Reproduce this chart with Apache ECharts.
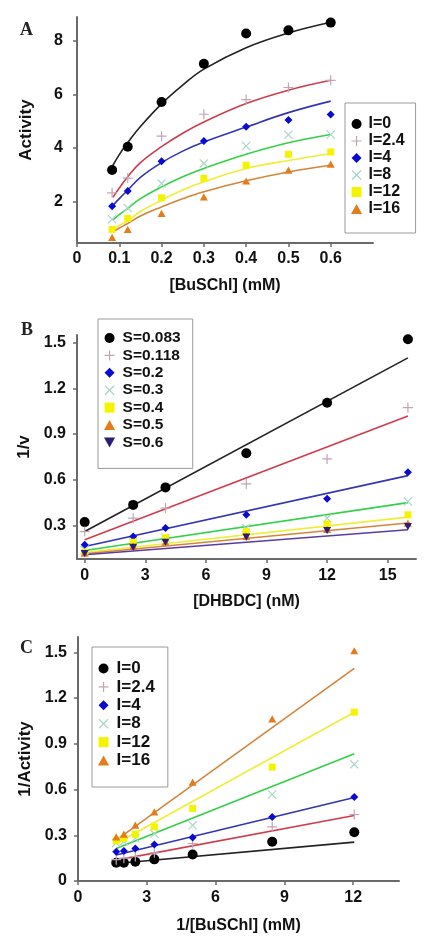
<!DOCTYPE html>
<html><head><meta charset="utf-8">
<script src="https://cdn.jsdelivr.net/npm/echarts@6/dist/echarts.min.js"></script>
<style>html,body{margin:0;padding:0;background:#fff}#c{width:434px;height:951px}</style>
</head><body><div id="c"></div>
<script>
// ---------- Panel A: Activity vs [BuSChl] ----------
const xA = [0.083, 0.12, 0.2, 0.3, 0.4, 0.5, 0.6];
const A_I0  = [3.17, 4.04, 5.72, 7.15, 8.28, 8.40, 8.69];
const A_I24 = [2.32, 2.87, 4.44, 5.26, 5.81, 6.26, 6.53];
const A_I4  = [1.82, 2.39, 3.50, 4.26, 4.79, 5.04, 5.25];
const A_I8  = [1.33, 1.75, 2.67, 3.42, 4.07, 4.49, 4.50];
const A_I12 = [0.95, 1.36, 2.13, 2.86, 3.35, 3.76, 3.85];
const A_I16 = [0.65, 0.95, 1.55, 2.17, 2.76, 3.17, 3.39];
const fitXA = [0.085, 0.1, 0.12, 0.15, 0.2, 0.25, 0.3, 0.4, 0.5, 0.6];
const fitA_I0  = [3.35, 3.75, 4.2, 4.8, 5.65, 6.35, 6.95, 7.75, 8.3, 8.7];
const fitA_I24 = [2.15, 2.5, 2.92, 3.45, 4.05, 4.55, 4.97, 5.66, 6.16, 6.53];
const fitA_I4  = [1.85, 2.1, 2.42, 2.9, 3.45, 3.88, 4.22, 4.78, 5.32, 5.75];
const fitA_I8  = [1.3, 1.5, 1.73, 2.1, 2.54, 2.92, 3.23, 3.76, 4.19, 4.5];
const fitA_I12 = [0.92, 1.1, 1.27, 1.62, 2.04, 2.42, 2.73, 3.23, 3.53, 3.79];
const fitA_I16 = [0.86, 1.0, 1.17, 1.45, 1.79, 2.1, 2.36, 2.77, 3.1, 3.35];
const xTicksA = [0, 0.1, 0.2, 0.3, 0.4, 0.5, 0.6];
const yTicksA = [2, 4, 6, 8];

// ---------- Panel B: 1/v vs [DHBDC] ----------
const xB = [0, 2.4, 4, 8, 12, 16];
const B_S083 = [0.322, 0.435, 0.55, 0.774, 1.105, 1.522];
const B_S118 = [0.26, 0.348, 0.414, 0.573, 0.737, 1.073];
const B_S2   = [0.174, 0.228, 0.283, 0.37, 0.475, 0.65];
const B_S3   = [0.14, 0.19, 0.22, 0.283, 0.348, 0.457];
const B_S4   = [0.123, 0.19, 0.22, 0.26, 0.31, 0.37];
const B_S5   = [0.118, 0.165, 0.19, 0.228, 0.275, 0.316];
const B_S6   = [0.115, 0.156, 0.19, 0.224, 0.267, 0.293];
const fitXB = [0, 16];
const fitB_S083 = [0.26, 1.40];
const fitB_S118 = [0.206, 1.018];
const fitB_S2   = [0.162, 0.627];
const fitB_S3   = [0.136, 0.45];
const fitB_S4   = [0.123, 0.355];
const fitB_S5   = [0.114, 0.316];
const fitB_S6   = [0.108, 0.272];
const xTicksB = [0, 3, 6, 9, 12, 15];
const yTicksB = [0.3, 0.6, 0.9, 1.2, 1.5];

// ---------- Panel C: 1/Activity vs 1/[BuSChl] ----------
const xC = [1.667, 2, 2.5, 3.33, 5, 8.47, 12.05];
const C_I0  = [0.12, 0.12, 0.126, 0.142, 0.174, 0.257, 0.32];
const C_I24 = [0.14, 0.15, 0.16, 0.185, 0.246, 0.355, 0.436];
const C_I4  = [0.192, 0.197, 0.213, 0.24, 0.285, 0.42, 0.551];
const C_I8  = [0.25, 0.26, 0.28, 0.31, 0.366, 0.567, 0.765];
const C_I12 = [0.264, 0.279, 0.307, 0.355, 0.475, 0.747, 1.107];
const C_I16 = [0.29, 0.307, 0.366, 0.453, 0.649, 1.063, 1.51];
const fitXC = [1.667, 12.05];
const fitC_I0  = [0.115, 0.255];
const fitC_I24 = [0.137, 0.43];
const fitC_I4  = [0.17, 0.547];
const fitC_I8  = [0.213, 0.834];
const fitC_I12 = [0.246, 1.107];
const fitC_I16 = [0.268, 1.394];
const xTicksC = [0, 3, 6, 9, 12];
const yTicksC = [0, 0.3, 0.6, 0.9, 1.2, 1.5];

const namesI = ['I=0', 'I=2.4', 'I=4', 'I=8', 'I=12', 'I=16'];
const namesS = ['S=0.083', 'S=0.118', 'S=0.2', 'S=0.3', 'S=0.4', 'S=0.5', 'S=0.6'];

// ---------- styles ----------
const PLUS = 'path://M4.4,0H5.6V4.4H10V5.6H5.6V10H4.4V5.6H0V4.4H4.4Z';
const CROSS = 'path://M0,0.9L0.9,0L5,4.1L9.1,0L10,0.9L5.9,5L10,9.1L9.1,10L5,5.9L0.9,10L0,9.1L4.1,5Z';
const DIAM = 'path://M5,0L10,5L5,10L0,5Z';
const SQR = 'path://M0,0H10V10H0Z';
const TRI = 'path://M5,0L10,9L0,9Z';
const TRID = 'path://M0,0H10L5,9Z';
const stI = [
  {sym: 'circle', size: 10, mc: '#000000', lc: '#222222'},
  {sym: PLUS, size: 10, mc: '#c4a4b4', lc: '#d03c4c'},
  {sym: DIAM, size: 8, mc: '#0a0ad0', lc: '#3434b4'},
  {sym: CROSS, size: 9, mc: '#a8d4c8', lc: '#34d048'},
  {sym: SQR, size: 7, mc: '#f4f400', lc: '#eeee38'},
  {sym: TRI, size: 8, mc: '#e47c1c', lc: '#d4843c'}
];
const stS = [
  stI[0], stI[1], stI[2], stI[3], stI[4], stI[5],
  {sym: TRID, size: 8, mc: '#2c1c74', lc: '#5c3ca4'}
];

const font = 'Liberation Sans, Arial, sans-serif';
const axisCol = '#6a6a6a';

function pairs(xs, ys) { return xs.map((x, i) => [x, ys[i]]); }

const series = [];
function addPanel(idx, names, styles, xs, ptsArr, fxs, fitArr, smooth) {
  names.forEach((n, i) => {
    series.push({
      type: 'line', name: 'fit ' + n, xAxisIndex: idx, yAxisIndex: idx,
      data: pairs(fxs, fitArr[i]), showSymbol: false, symbol: 'none', smooth: smooth,
      lineStyle: {color: styles[i].lc, width: 1.6}, z: 2, silent: true
    });
  });
  names.forEach((n, i) => {
    series.push({
      type: 'scatter', name: n, xAxisIndex: idx, yAxisIndex: idx,
      data: pairs(xs, ptsArr[i]), symbol: styles[i].sym, symbolSize: styles[i].size,
      symbolKeepAspect: true,
      itemStyle: {color: styles[i].mc, opacity: 1}, z: 3
    });
  });
}
addPanel(0, namesI, stI, xA, [A_I0, A_I24, A_I4, A_I8, A_I12, A_I16],
  fitXA, [fitA_I0, fitA_I24, fitA_I4, fitA_I8, fitA_I12, fitA_I16], 0.4);
addPanel(1, namesS, stS, xB, [B_S083, B_S118, B_S2, B_S3, B_S4, B_S5, B_S6],
  fitXB, [fitB_S083, fitB_S118, fitB_S2, fitB_S3, fitB_S4, fitB_S5, fitB_S6], false);
addPanel(2, namesI, stI, xC, [C_I0, C_I24, C_I4, C_I8, C_I12, C_I16],
  fitXC, [fitC_I0, fitC_I24, fitC_I4, fitC_I8, fitC_I12, fitC_I16], false);

function mkAxis(o) {
  return Object.assign({
    type: 'value', splitLine: {show: false},
    axisLine: {show: true, onZero: false, lineStyle: {color: axisCol, width: 2}},
    axisTick: {show: true, length: 4, lineStyle: {color: axisCol, width: 1.5}, customValues: o.ticks},
    axisLabel: {customValues: o.ticks, color: '#111', fontFamily: font, fontWeight: 'bold', fontSize: o.fs, margin: o.margin},
    nameLocation: 'middle',
    nameTextStyle: {color: '#111', fontFamily: font, fontWeight: 'bold', fontSize: o.nfs}
  }, o.extra);
}

const legendBase = {
  orient: 'vertical', backgroundColor: '#fff', borderColor: '#9a9a9a', borderWidth: 1,
  itemWidth: 14, itemHeight: 10, symbolKeepAspect: true,
  textStyle: {color: '#111', fontFamily: font, fontWeight: 'bold'}
};

const option = {
  backgroundColor: '#ffffff',
  animation: false,
  title: [
    {text: 'A', left: 15, top: 16, textStyle: {fontFamily: 'Liberation Serif, Times New Roman, serif', fontWeight: 'bold', fontSize: 18, color: '#222'}},
    {text: 'B', left: 16, top: 316, textStyle: {fontFamily: 'Liberation Serif, Times New Roman, serif', fontWeight: 'bold', fontSize: 18, color: '#222'}},
    {text: 'C', left: 15, top: 634, textStyle: {fontFamily: 'Liberation Serif, Times New Roman, serif', fontWeight: 'bold', fontSize: 18, color: '#222'}}
  ],
  grid: [
    {left: 77, top: 17, width: 296, height: 226},
    {left: 77, top: 335, width: 339, height: 224},
    {left: 78, top: 637, width: 321, height: 244}
  ],
  xAxis: [
    mkAxis({ticks: xTicksA, fs: 16, margin: 8, nfs: 16, extra: {gridIndex: 0, min: 0, max: 0.7, name: '[BuSChl] (mM)', nameGap: 35}}),
    mkAxis({ticks: xTicksB, fs: 16, margin: 9, nfs: 16, extra: {gridIndex: 1, min: -0.38, max: 16.4, name: '[DHBDC] (nM)', nameGap: 35}}),
    mkAxis({ticks: xTicksC, fs: 16, margin: 9, nfs: 16, extra: {gridIndex: 2, min: 0, max: 14, name: '1/[BuSChl] (mM)', nameGap: 37}})
  ],
  yAxis: [
    mkAxis({ticks: yTicksA, fs: 16, margin: 14, nfs: 17, extra: {gridIndex: 0, min: 0.44, max: 8.9, name: 'Activity', nameGap: 42}}),
    mkAxis({ticks: yTicksB, fs: 16, margin: 11, nfs: 17, extra: {gridIndex: 1, min: 0.08, max: 1.55, name: '1/v', nameGap: 40}}),
    mkAxis({ticks: yTicksC, fs: 16, margin: 11, nfs: 17, extra: {gridIndex: 2, min: 0, max: 1.6, name: '1/Activity', nameGap: 42}})
  ],
  legend: [
    Object.assign({}, legendBase, {data: namesI, left: 345, top: 103, padding: [13, 11, 16, 6], itemGap: 1,
      textStyle: Object.assign({}, legendBase.textStyle, {fontSize: 16})}),
    Object.assign({}, legendBase, {data: namesS, left: 98, top: 319, padding: [11, 12, 18, 6], itemGap: 1.4, itemWidth: 16,
      textStyle: Object.assign({}, legendBase.textStyle, {fontSize: 15.5})}),
    Object.assign({}, legendBase, {data: namesI, left: 92, top: 647, padding: [13, 13, 18, 6], itemGap: 1.4, itemWidth: 16,
      textStyle: Object.assign({}, legendBase.textStyle, {fontSize: 17})})
  ],
  series: series
};

const chart = echarts.init(document.getElementById('c'), null, {renderer: 'canvas'});
chart.setOption(option);
</script>
</body></html>
